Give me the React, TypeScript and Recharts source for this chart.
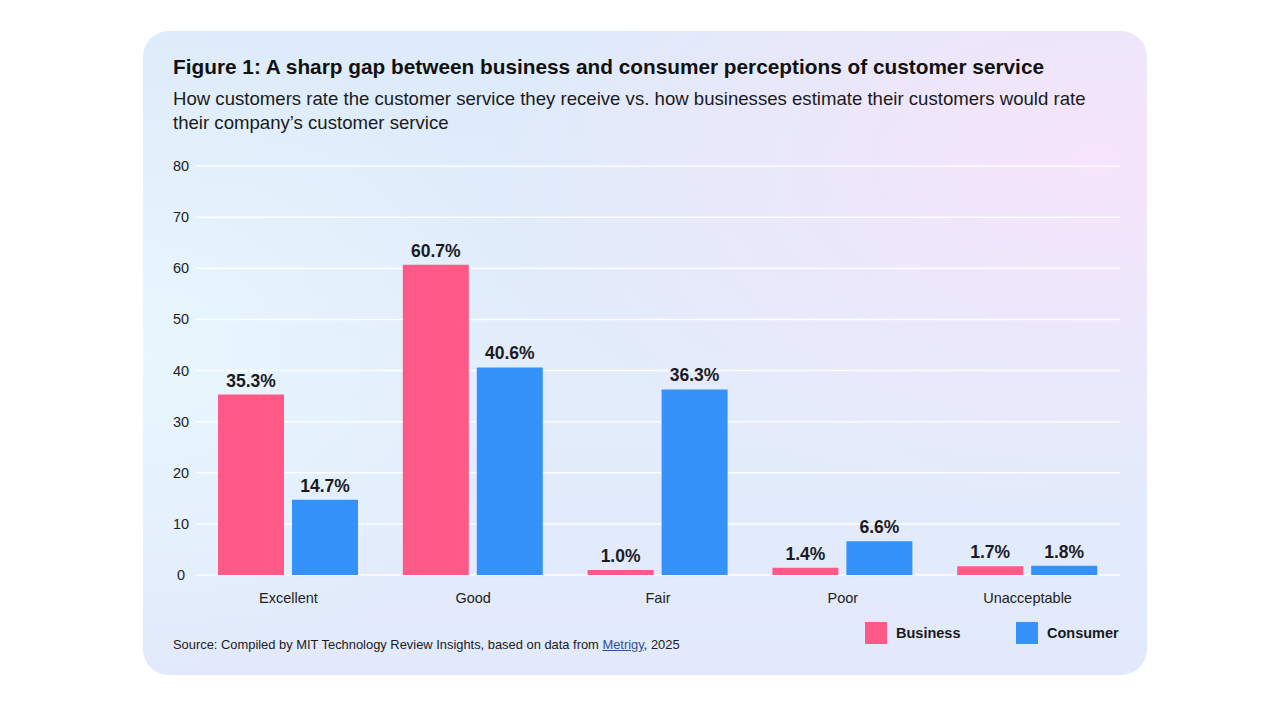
import React from 'react';
import { BarChart, Bar, XAxis, YAxis, CartesianGrid, LabelList } from 'recharts';

const categories = ['Excellent', 'Good', 'Fair', 'Poor', 'Unacceptable'];
const businessValues = [35.3, 60.7, 1.0, 1.4, 1.7];
const consumerValues = [14.7, 40.6, 36.3, 6.6, 1.8];
const yTicks = [0, 10, 20, 30, 40, 50, 60, 70, 80];

const PINK = '#ff5a87';
const BLUE = '#3592fa';
const FONT = '"Liberation Sans", Arial, Helvetica, sans-serif';

const chartData = categories.map((name, i) => ({
  name,
  business: businessValues[i],
  consumer: consumerValues[i],
}));

const YTick = (props: any) => {
  const { x, y, payload } = props;
  return (
    <text x={x - 7} y={y} dy={5} textAnchor="middle" fontSize={14.5} fill="#222" fontFamily={FONT}>
      {payload.value}
    </text>
  );
};

const XTick = (props: any) => {
  const { x, y, payload } = props;
  return (
    <text x={x} y={y} dy={20} textAnchor="middle" fontSize={14.5} fill="#222" fontFamily={FONT}>
      {payload.value}
    </text>
  );
};

const pct = (v: any) => `${Number(v).toFixed(1)}%`;

const labelStyle = { fontSize: 17.5, fontWeight: 700, fill: '#1b1b1f', fontFamily: FONT };

export default function App() {
  return (
    <div style={{ position: 'absolute', left: 0, top: 0, width: 1280, height: 720, background: '#fff', fontFamily: FONT }}>
      <div
        style={{
          position: 'absolute',
          left: 143,
          top: 31,
          width: 1004,
          height: 644,
          borderRadius: 26,
          overflow: 'hidden',
          background:
            'radial-gradient(ellipse 60% 55% at 95% 20%, rgba(246,228,251,1) 0%, rgba(246,228,251,0) 100%),' +
            'radial-gradient(ellipse 40% 50% at 0% 50%, rgba(232,247,254,1) 0%, rgba(232,247,254,0) 100%),' +
            'linear-gradient(180deg, #ddebfa 0%, #e3ecfb 60%, #e1e9fb 100%)',
        }}
      >
        <div style={{ position: 'absolute', left: 30, top: 24, fontSize: 20.8, fontWeight: 700, color: '#111', whiteSpace: 'nowrap' }}>
          Figure 1: A sharp gap between business and consumer perceptions of customer service
        </div>
        <div style={{ position: 'absolute', left: 30, top: 56, width: 935, fontSize: 18.6, lineHeight: '24px', color: '#1a1a1a' }}>
          How customers rate the customer service they receive vs. how businesses estimate their customers would rate
          their company’s customer service
        </div>

        <div style={{ position: 'absolute', left: 0, top: 119 }}>
          <BarChart
            width={1004}
            height={470}
            data={chartData}
            margin={{ top: 16, right: 27, bottom: 0, left: 0 }}
            barGap={8}
            barCategoryGap={22}
          >
            <CartesianGrid vertical={false} stroke="#ffffff" strokeWidth={1.5} strokeOpacity={0.9} />
            <XAxis dataKey="name" axisLine={false} tickLine={false} tick={<XTick />} height={45} interval={0} />
            <YAxis
              domain={[0, 80]}
              ticks={yTicks}
              axisLine={false}
              tickLine={false}
              width={53}
              tick={<YTick />}
              interval={0}
            />
            <Bar dataKey="business" fill={PINK} isAnimationActive={false}>
              <LabelList dataKey="business" position="top" offset={8} formatter={pct} style={labelStyle} />
            </Bar>
            <Bar dataKey="consumer" fill={BLUE} isAnimationActive={false}>
              <LabelList dataKey="consumer" position="top" offset={8} formatter={pct} style={labelStyle} />
            </Bar>
          </BarChart>
        </div>

        <div style={{ position: 'absolute', left: 30, top: 606, fontSize: 12.9, color: '#1a1a1a', whiteSpace: 'nowrap' }}>
          Source: Compiled by MIT Technology Review Insights, based on data from{' '}
          <span style={{ color: '#2f4fa0', textDecoration: 'underline' }}>Metrigy</span>, 2025
        </div>

        <div style={{ position: 'absolute', left: 722, top: 591, display: 'flex', alignItems: 'center', fontSize: 14.5, fontWeight: 700, color: '#1a1a1a' }}>
          <span style={{ width: 22, height: 22, background: PINK, display: 'inline-block' }} />
          <span style={{ marginLeft: 9, width: 120 }}>Business</span>
          <span style={{ width: 22, height: 22, background: BLUE, display: 'inline-block' }} />
          <span style={{ marginLeft: 9 }}>Consumer</span>
        </div>
      </div>
    </div>
  );
}
